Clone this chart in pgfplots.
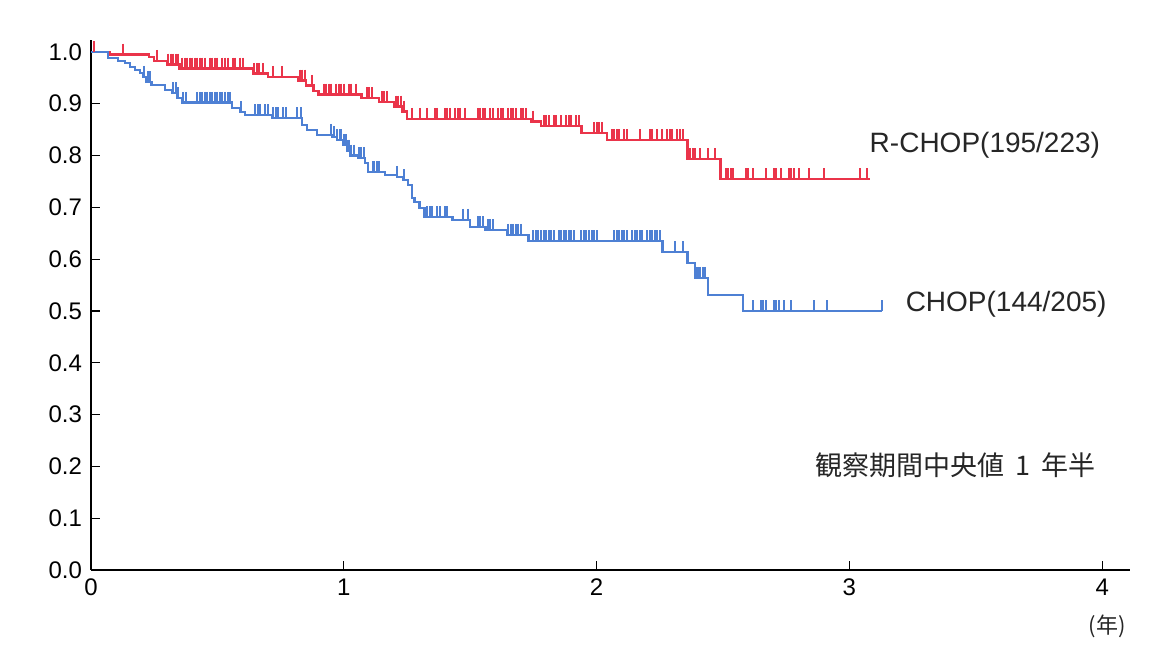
\documentclass[border=0pt]{standalone}
\usepackage{pgfplots}
\pgfplotsset{compat=1.18}
\usepackage{fontspec}
\setmainfont{Liberation Sans}
\newfontfamily\jp{Noto Sans CJK JP}
\definecolor{rchop}{RGB}{234,52,74}
\definecolor{chop}{RGB}{78,128,212}
\begin{document}
\begin{tikzpicture}
\begin{axis}[
  at={(0,0)}, anchor=south west,
  scale only axis, width=519.5pt, height=265pt,
  xmin=0, xmax=4.11, ymin=0, ymax=1.023,
  axis x line*=bottom, axis y line*=left,
  axis line style={-, line width=1pt, black},
  xtick={0,1,2,3,4},
  ytick={0,0.1,0.2,0.3,0.4,0.5,0.6,0.7,0.8,0.9,1.0},
  tick align=inside, major tick length=4.5pt,
  tick style={black, line width=0.6pt},
  /pgf/number format/assume math mode=true,
  yticklabel style={/pgf/number format/fixed, /pgf/number format/fixed zerofill,
    /pgf/number format/precision=1, xshift=-1pt},
  ticklabel style={font=\fontsize{12}{14}\selectfont},
  xticklabel style={yshift=-1pt},
  clip=false,
  const plot,
]
% R-CHOP step curve
\addplot[rchop, line width=1.2pt, no marks] coordinates {
(0,1.0) (0.075,0.995) (0.23,0.99) (0.25,0.983) (0.30,0.976) (0.35,0.968)
(0.64,0.958) (0.70,0.952) (0.82,0.945) (0.85,0.935) (0.88,0.925) (0.90,0.918)
(1.07,0.911) (1.14,0.903) (1.20,0.895) (1.23,0.885) (1.25,0.871) (1.74,0.866)
(1.78,0.857) (1.94,0.843) (2.04,0.830) (2.36,0.793) (2.49,0.755) (3.08,0.755)
};
% R-CHOP censored
\addplot[rchop, only marks, mark=|, mark size=2.8pt,
  mark options={yshift=2.6pt, line width=1pt}] table {
x y
0.01 1.0
0.127 0.995
0.26 0.983
0.305 0.976
0.315 0.976
0.325 0.976
0.335 0.976
0.345 0.976
0.36 0.968
0.37 0.968
0.38 0.968
0.39 0.968
0.40 0.968
0.41 0.968
0.42 0.968
0.43 0.968
0.44 0.968
0.45 0.968
0.47 0.968
0.48 0.968
0.49 0.968
0.50 0.968
0.52 0.968
0.53 0.968
0.54 0.968
0.56 0.968
0.57 0.968
0.59 0.968
0.60 0.968
0.645 0.958
0.655 0.958
0.665 0.958
0.68 0.958
0.72 0.952
0.755 0.952
0.825 0.945
0.835 0.945
0.845 0.945
0.875 0.935
0.92 0.918
0.93 0.918
0.94 0.918
0.95 0.918
0.97 0.918
0.98 0.918
0.99 0.918
1.00 0.918
1.02 0.918
1.03 0.918
1.05 0.918
1.09 0.911
1.10 0.911
1.11 0.911
1.15 0.903
1.16 0.903
1.17 0.903
1.205 0.895
1.215 0.895
1.225 0.895
1.24 0.885
1.27 0.871
1.30 0.871
1.33 0.871
1.36 0.871
1.37 0.871
1.40 0.871
1.41 0.871
1.42 0.871
1.44 0.871
1.45 0.871
1.46 0.871
1.48 0.871
1.53 0.871
1.54 0.871
1.55 0.871
1.56 0.871
1.58 0.871
1.59 0.871
1.61 0.871
1.62 0.871
1.63 0.871
1.65 0.871
1.66 0.871
1.67 0.871
1.68 0.871
1.70 0.871
1.71 0.871
1.72 0.871
1.75 0.866
1.79 0.857
1.80 0.857
1.81 0.857
1.83 0.857
1.84 0.857
1.86 0.857
1.88 0.857
1.89 0.857
1.90 0.857
1.92 0.857
1.93 0.857
1.99 0.843
2.00 0.843
2.01 0.843
2.02 0.843
2.06 0.830
2.07 0.830
2.08 0.830
2.09 0.830
2.11 0.830
2.12 0.830
2.17 0.830
2.21 0.830
2.22 0.830
2.24 0.830
2.26 0.830
2.28 0.830
2.29 0.830
2.30 0.830
2.32 0.830
2.33 0.830
2.34 0.830
2.37 0.793
2.38 0.793
2.39 0.793
2.41 0.793
2.44 0.793
2.47 0.793
2.51 0.755
2.52 0.755
2.53 0.755
2.54 0.755
2.59 0.755
2.60 0.755
2.62 0.755
2.67 0.755
2.70 0.755
2.71 0.755
2.73 0.755
2.76 0.755
2.77 0.755
2.78 0.755
2.80 0.755
2.84 0.755
2.90 0.755
3.04 0.755
3.07 0.755
};
% CHOP step curve
\addplot[chop, line width=1.2pt, no marks] coordinates {
(0,1.0) (0.067,0.988) (0.107,0.983) (0.135,0.979) (0.155,0.971) (0.174,0.965)
(0.194,0.959) (0.206,0.952) (0.22,0.942) (0.24,0.936) (0.293,0.927) (0.32,0.921)
(0.34,0.911) (0.36,0.902) (0.558,0.892) (0.59,0.884) (0.61,0.878) (0.716,0.872)
(0.835,0.859) (0.855,0.849) (0.894,0.840) (0.953,0.836) (0.973,0.830) (0.997,0.820)
(1.013,0.810) (1.025,0.800) (1.056,0.795) (1.084,0.786) (1.096,0.768) (1.163,0.762)
(1.21,0.759) (1.234,0.753) (1.254,0.743) (1.27,0.718) (1.28,0.710) (1.30,0.699)
(1.32,0.681) (1.43,0.676) (1.50,0.662) (1.56,0.656) (1.645,0.647) (1.73,0.635)
(2.26,0.614) (2.36,0.593) (2.39,0.564) (2.44,0.531) (2.58,0.500) (3.13,0.500)
};
% CHOP censored
\addplot[chop, only marks, mark=|, mark size=2.8pt,
  mark options={yshift=2.6pt, line width=1pt}] table {
x y
0.21 0.952
0.225 0.942
0.235 0.942
0.325 0.921
0.335 0.921
0.345 0.911
0.365 0.902
0.375 0.902
0.42 0.902
0.43 0.902
0.44 0.902
0.45 0.902
0.46 0.902
0.47 0.902
0.48 0.902
0.49 0.902
0.50 0.902
0.51 0.902
0.52 0.902
0.53 0.902
0.54 0.902
0.55 0.902
0.595 0.884
0.65 0.878
0.66 0.878
0.67 0.878
0.69 0.878
0.70 0.878
0.72 0.872
0.73 0.872
0.74 0.872
0.76 0.872
0.77 0.872
0.815 0.872
0.83 0.872
0.95 0.840
0.96 0.836
0.975 0.830
0.985 0.830
0.99 0.830
1.00 0.820
1.01 0.820
1.015 0.810
1.02 0.810
1.03 0.800
1.04 0.800
1.06 0.795
1.07 0.795
1.08 0.795
1.115 0.768
1.12 0.768
1.13 0.768
1.14 0.768
1.21 0.759
1.24 0.753
1.33 0.681
1.34 0.681
1.35 0.681
1.37 0.681
1.38 0.681
1.40 0.681
1.41 0.681
1.47 0.676
1.49 0.676
1.53 0.662
1.54 0.662
1.55 0.662
1.57 0.656
1.58 0.656
1.59 0.656
1.65 0.647
1.66 0.647
1.67 0.647
1.68 0.647
1.69 0.647
1.70 0.647
1.75 0.635
1.76 0.635
1.77 0.635
1.78 0.635
1.79 0.635
1.80 0.635
1.81 0.635
1.82 0.635
1.83 0.635
1.85 0.635
1.86 0.635
1.87 0.635
1.88 0.635
1.89 0.635
1.90 0.635
1.91 0.635
1.94 0.635
1.95 0.635
1.96 0.635
1.97 0.635
1.98 0.635
1.99 0.635
2.00 0.635
2.07 0.635
2.08 0.635
2.09 0.635
2.10 0.635
2.11 0.635
2.12 0.635
2.14 0.635
2.15 0.635
2.16 0.635
2.17 0.635
2.18 0.635
2.20 0.635
2.21 0.635
2.22 0.635
2.23 0.635
2.24 0.635
2.25 0.635
2.31 0.614
2.34 0.614
2.395 0.564
2.40 0.564
2.41 0.564
2.42 0.564
2.43 0.564
2.62 0.500
2.65 0.500
2.66 0.500
2.67 0.500
2.70 0.500
2.71 0.500
2.72 0.500
2.74 0.500
2.77 0.500
2.86 0.500
2.91 0.500
3.13 0.500
};
\node[font=\fontsize{14}{16}\selectfont, text=black!85] at (axis cs:3.536,0.820) {R-CHOP(195/223)};
\node[font=\fontsize{14}{16}\selectfont, text=black!85] at (axis cs:3.62,0.512) {CHOP(144/205)};
\node[font=\jp\fontsize{13.5}{15}\selectfont, text=black!85] at (axis cs:3.42,0.203) {観察期間中央値\hspace{0.4em}1\hspace{0.4em}年半};
\node[font=\jp\fontsize{11}{13}\selectfont, text=black!85] at (axis cs:4.02,-0.108) {(年)};
\end{axis}
\pgfresetboundingbox
\path[use as bounding box] (-45.5pt,-46.5pt) rectangle (531pt,285pt);
\end{tikzpicture}
\end{document}
